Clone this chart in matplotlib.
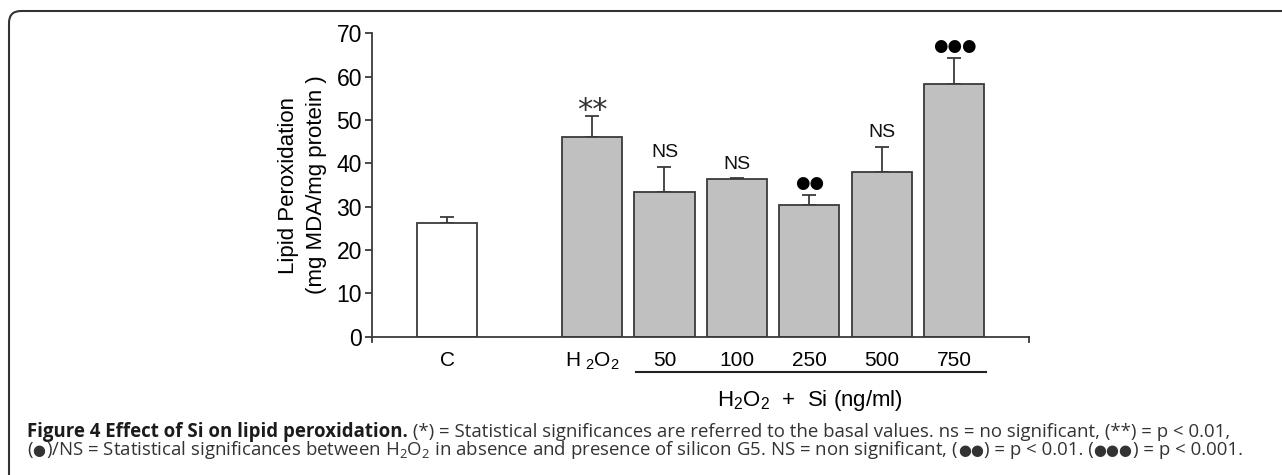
import matplotlib
matplotlib.use("Agg")
import matplotlib.pyplot as plt
from matplotlib.patches import FancyBboxPatch
from matplotlib.transforms import IdentityTransform, blended_transform_factory

SANS = "Liberation Sans"
CAP = "Open Sans"

categories = ["C", r"H$\mathregular{_{\ 2}}$O$\mathregular{_2}$", "50", "100", "250", "500", "750"]
positions = [0, 2, 3, 4, 5, 6, 7]
values = [26.2, 46.0, 33.3, 36.3, 30.4, 37.9, 58.3]
errors = [1.5, 4.9, 5.9, 0.2, 2.2, 5.9, 5.9]
colors = ["white", "#c0c0c0", "#c0c0c0", "#c0c0c0", "#c0c0c0", "#c0c0c0", "#c0c0c0"]
marks = ["", "**", "NS", "NS", "●●", "NS", "●●●"]

W, H = 1282, 475
fig = plt.figure(figsize=(W / 100, H / 100), dpi=100)
ax = fig.add_axes([371.7 / W, 1 - 336.7 / H, (1029 - 371.7) / W, (336.7 - 33.3) / H])

edge = "#3a3a3a"
ax.bar(positions, values, width=0.83, color=colors, edgecolor=edge, linewidth=1.3, zorder=2)
ax.errorbar(positions, values, yerr=[[0] * len(errors), errors], fmt="none",
            ecolor=edge, elinewidth=1.3, capsize=5, capthick=1.3, zorder=1)

for x, v, e, m in zip(positions, values, errors, marks):
    if not m:
        continue
    if m == "**":
        ax.annotate(m, (x, v + e), xytext=(0, 4), textcoords="offset points",
                    ha="center", va="center", fontsize=22, family=["DejaVu Sans"], color="#333")
    elif m == "NS":
        ax.annotate(m, (x, v + e), xytext=(0, 10), textcoords="offset points",
                    ha="center", va="center", fontsize=14, family=[SANS], color="#111")
    else:
        ax.annotate(m, (x, v + e), xytext=(0, 9), textcoords="offset points",
                    ha="center", va="center", fontsize=12, family=["DejaVu Sans"], color="#000")

ax.set_xlim(-1.04, 8.03)
ax.set_ylim(0, 70)
ax.set_yticks(range(0, 71, 10))
ax.set_xticks(positions)
ax.set_xticklabels(categories, family=SANS, fontsize=15)
ax.tick_params(axis="x", length=0, pad=10)
ax.tick_params(axis="y", length=5, width=1.3, color=edge, labelsize=16.5, pad=2)
for t in ax.get_yticklabels():
    t.set_family(SANS)
for s in ["top", "right"]:
    ax.spines[s].set_visible(False)
for s in ["left", "bottom"]:
    ax.spines[s].set_color(edge)
    ax.spines[s].set_linewidth(1.3)
ax.spines["left"].set_bounds(-1.2, 70)
ax.set_ylabel("Lipid Peroxidation\n(mg MDA/mg protein )", family=SANS, fontsize=16,
              linespacing=1.45, labelpad=7)

tr = blended_transform_factory(ax.transData, ax.transAxes)
ax.plot([8.03, 8.03], [0, -0.018], transform=tr, color=edge, lw=1.3, clip_on=False)
ax.plot([2.61, 7.43], [-0.115, -0.115], transform=tr, color="#222", lw=1.5, clip_on=False)
ax.text(5.0, -0.209, r"H$\mathregular{_2}$O$\mathregular{_2}$  +  Si (ng/ml)", transform=tr,
        ha="center", va="center", family=SANS, fontsize=16)

# border
fig.add_artist(FancyBboxPatch((9, -30), 1320, H - 11 + 30, boxstyle="round,pad=0,rounding_size=12",
                              transform=IdentityTransform(), fill=False, edgecolor="#333", lw=1.5))

# caption
fig.canvas.draw()
renderer = fig.canvas.get_renderer()
DOT = ["DejaVu Sans"]
TXT = [CAP]
dark, grey = "#1b1b1b", "#333333"

line1 = [("Figure 4 Effect of Si on lipid peroxidation.", "bold", dark, TXT),
         (" (*) = Statistical significances are referred to the basal values. ns = no significant, (**) = p < 0.01,", "normal", grey, TXT)]
line2 = [("(", "normal", grey, TXT), ("●", "normal", grey, DOT),
         (r")/NS = Statistical significances between H$\mathregular{_2}$O$\mathregular{_2}$ in absence and presence of silicon G5. NS = non significant, (", "normal", grey, TXT),
         ("●●", "normal", grey, DOT), (") = p < 0.01. (", "normal", grey, TXT),
         ("●●●", "normal", grey, DOT), (") = p < 0.001.", "normal", grey, TXT)]

def put(parts, x0, ybase, size):
    x = x0
    arts = []
    for txt, weight, col, fam in parts:
        fs = size * 0.8 if fam is DOT else size
        t = fig.text(x, ybase, txt, transform=IdentityTransform(), family=fam,
                     fontsize=fs, weight=weight, color=col, va="baseline", ha="left")
        arts.append(t)
        x = t.get_window_extent(renderer).x1
    return x, arts

x0 = 27
trial = 11.0
end, arts = put(line1, x0, H - 438, trial)
for a in arts:
    a.remove()
size = trial * (1230 - x0) / (end - x0)
put(line1, x0, H - 437, size)
put(line2, x0, H - 455, size)

fig.savefig("out.png", dpi=100)
